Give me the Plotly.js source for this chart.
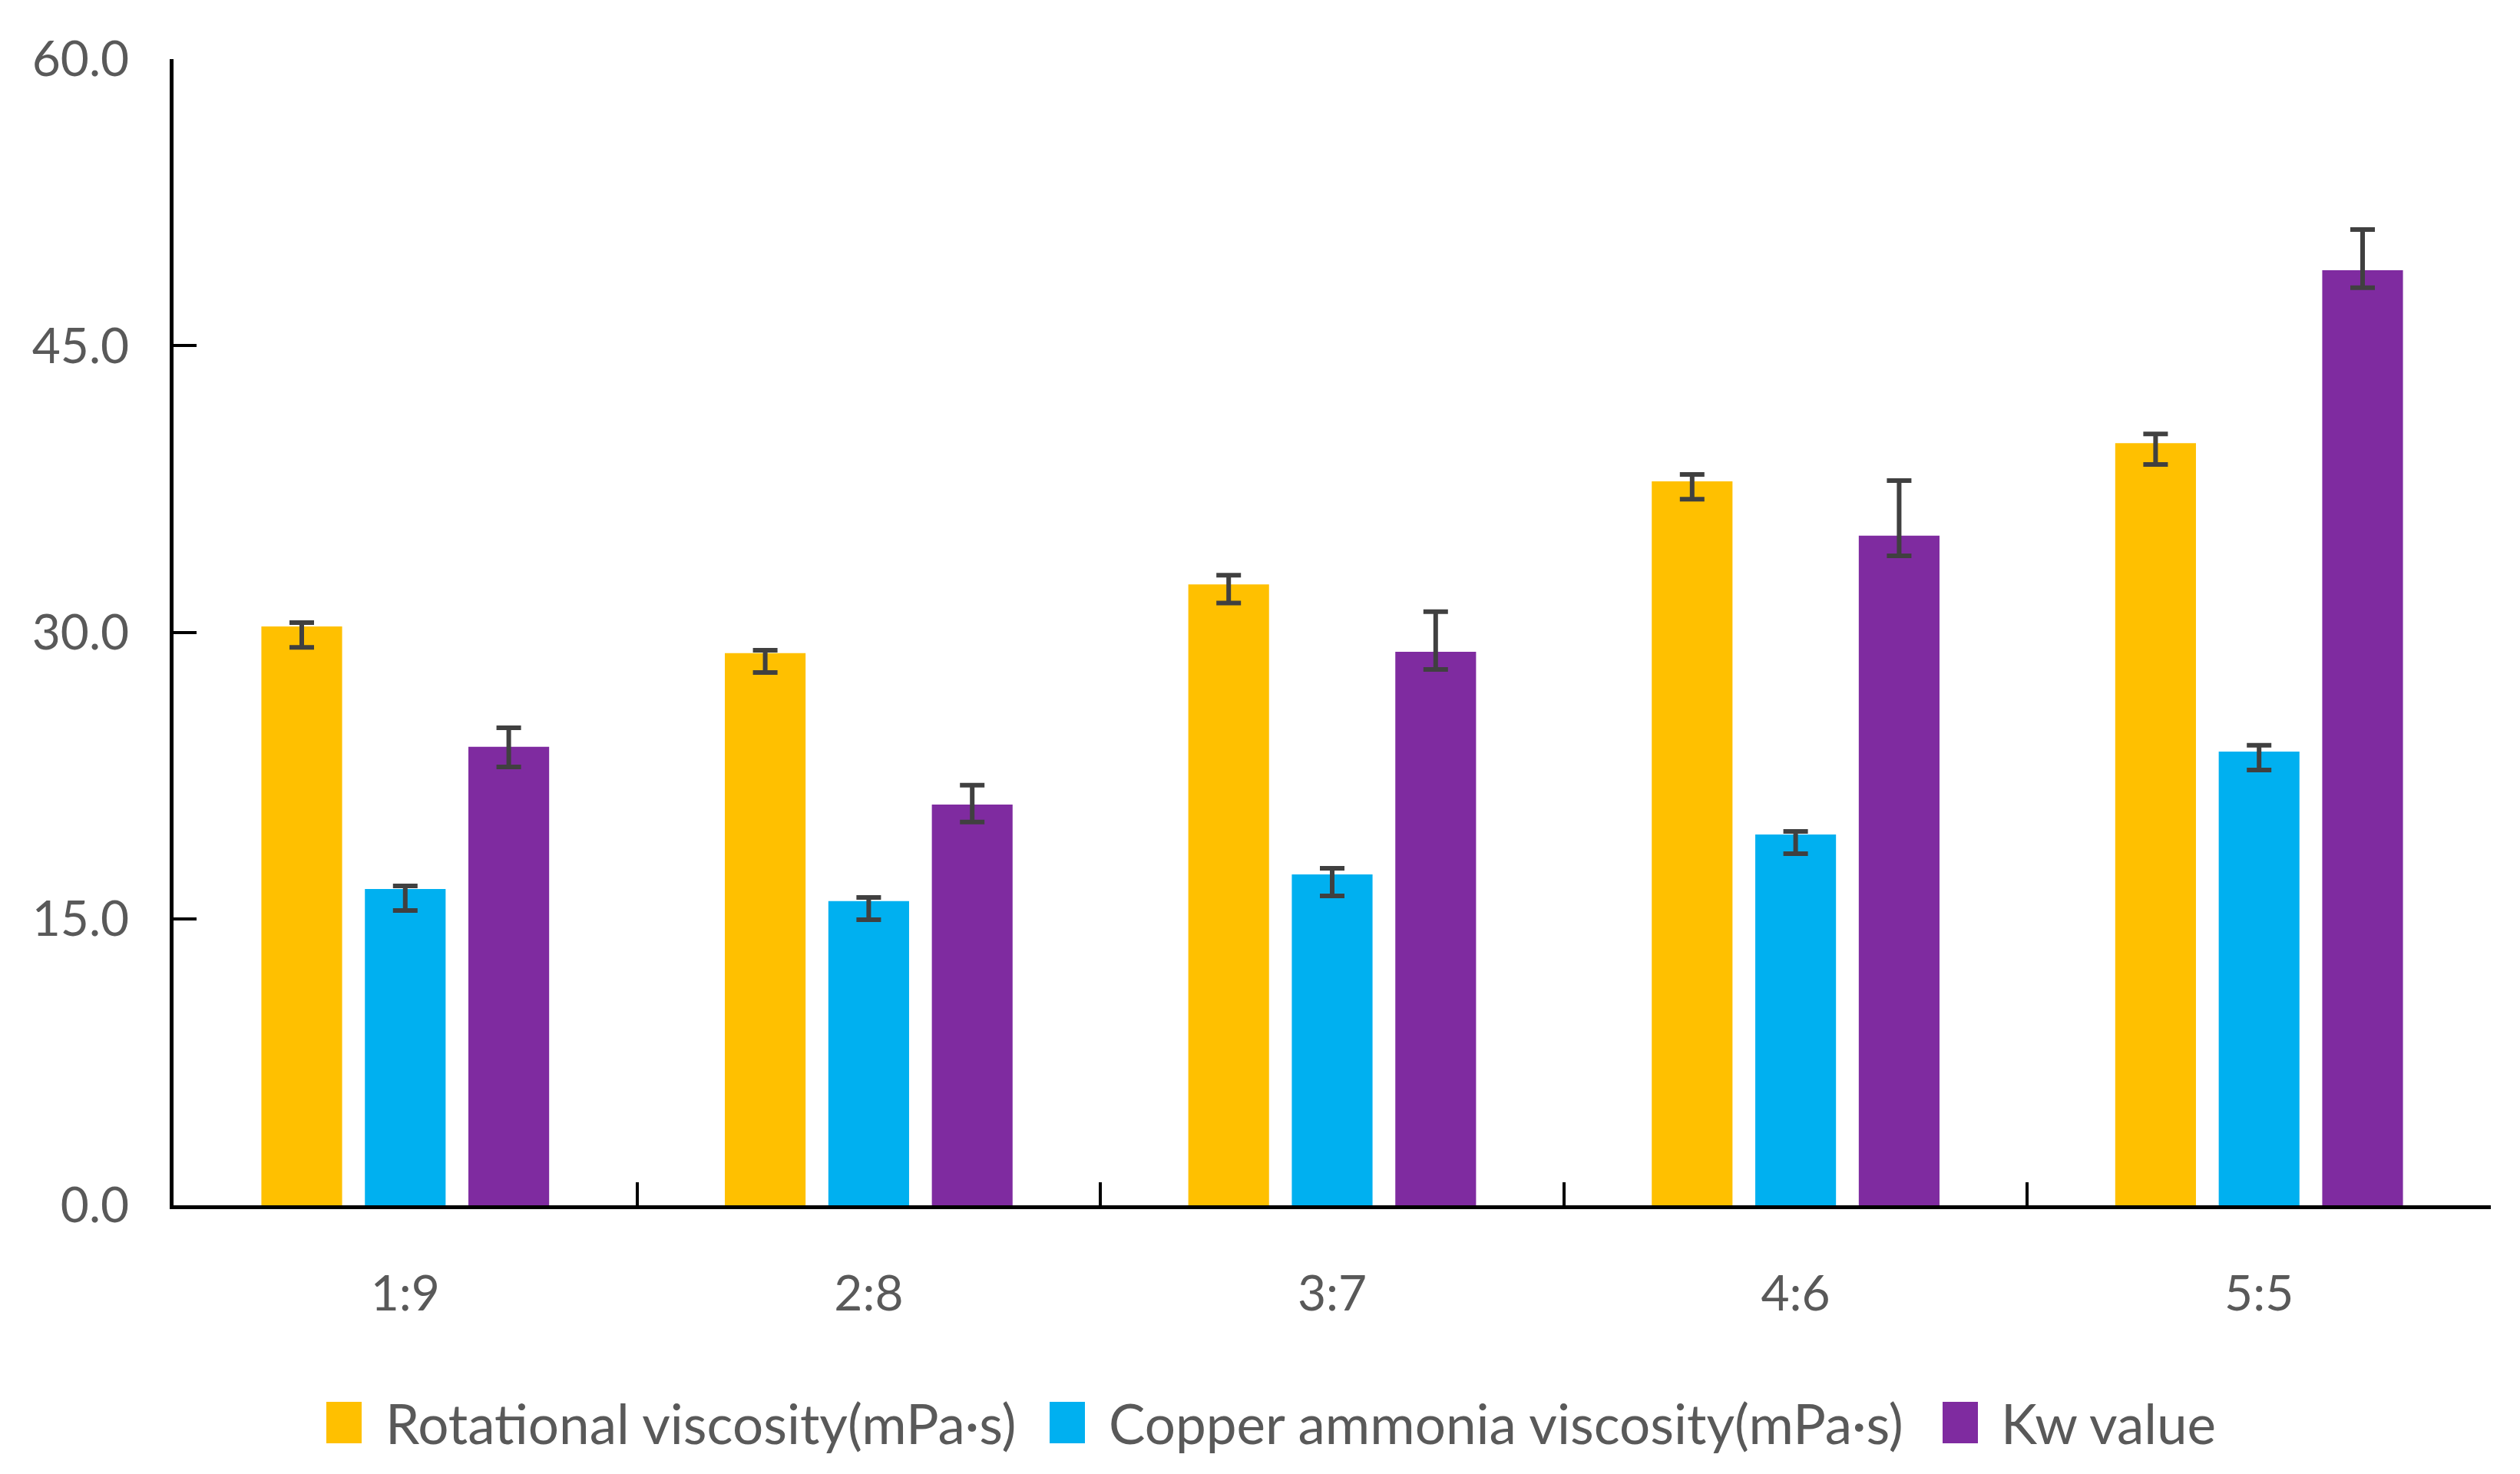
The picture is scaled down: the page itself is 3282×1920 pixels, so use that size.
<!DOCTYPE html>
<html>
<head>
<meta charset="utf-8">
<script src="https://cdn.plot.ly/plotly-3.0.1.min.js"></script>
<style>html,body{margin:0;padding:0;background:#fff;}#chart{width:3282px;height:1920px;}</style>
</head>
<body>
<div id="chart"></div>
<script>
const categories = ['1:9', '2:8', '3:7', '4:6', '5:5'];
const seriesNames = ['Rotational viscosity(mPa·s)', 'Copper ammonia viscosity(mPa·s)', 'Kw value'];
const rotational = [30.3, 28.9, 32.5, 37.9, 39.9];
const rotationalPlus = [0.2, 0.16, 0.48, 0.36, 0.48];
const rotationalMinus = [1.09, 1.01, 0.97, 0.94, 1.12];
const copper = [16.56, 15.92, 17.32, 19.41, 23.75];
const copperPlus = [0.16, 0.2, 0.32, 0.16, 0.33];
const copperMinus = [1.13, 0.97, 1.12, 1.0, 0.96];
const kw = [24.0, 20.98, 28.98, 35.05, 48.95];
const kwPlus = [1.0, 1.01, 2.09, 2.89, 2.13];
const kwMinus = [1.05, 0.92, 0.93, 1.05, 0.92];
const yTicks = [0, 15, 30, 45, 60];
const colors = ['#FFC000', '#00B0F0', '#7F2BA0'];

const FONT = 'Lato, "Open Sans", sans-serif';
const errStyle = (plus, minus) => ({
  type: 'data', symmetric: false, array: plus, arrayminus: minus,
  color: '#404040', thickness: 6, width: 16
});

const values = [rotational, copper, kw];
const pluses = [rotationalPlus, copperPlus, kwPlus];
const minuses = [rotationalMinus, copperMinus, kwMinus];

const traces = values.map((v, i) => ({
  type: 'bar', name: seriesNames[i], x: categories, y: v,
  marker: {color: colors[i]},
  error_y: errStyle(pluses[i], minuses[i]),
  showlegend: false
}));

// custom legend (large swatches) in paper coordinates
const shapes = [];
const annotations = [];
const plotL = 226, plotW = 3244 - 226, plotB = 1570, plotH = 1570 - 77;
function px2paperX(px) { return (px - plotL) / plotW; }
function px2paperY(py) { return (plotB - py) / plotH; }
const legendItems = [
  {sx: 425, tx: 500},
  {sx: 1367, tx: 1442},
  {sx: 2530, tx: 2604}
];
legendItems.forEach((it, i) => {
  shapes.push({
    type: 'rect', xref: 'paper', yref: 'paper',
    x0: px2paperX(it.sx), x1: px2paperX(it.sx + 46),
    y0: px2paperY(1880), y1: px2paperY(1826),
    fillcolor: colors[i], line: {width: 0}
  });
  annotations.push({
    xref: 'paper', yref: 'paper', x: px2paperX(it.tx), y: px2paperY(1853),
    xanchor: 'left', yanchor: 'middle', showarrow: false,
    text: seriesNames[i], font: {family: FONT, size: 71, color: '#595959'}
  });
});

const layout = {
  width: 3282, height: 1920,
  margin: {l: plotL, r: 3282 - 3244, t: 77, b: 1920 - 1570, pad: 0},
  paper_bgcolor: '#ffffff', plot_bgcolor: '#ffffff',
  barmode: 'group', bargap: 0.33, bargroupgap: 0.22,
  font: {family: FONT, size: 64, color: '#595959'},
  xaxis: {
    type: 'category', tickson: 'boundaries', ticks: 'inside', ticklen: 30, tickwidth: 4,
    tickcolor: '#000', showline: true, linecolor: '#000', linewidth: 5,
    showgrid: false, zeroline: false, ticklabelstandoff: 55,
    tickfont: {family: FONT, size: 64, color: '#595959'}
  },
  yaxis: {
    range: [0, 60], tickvals: yTicks, tickformat: '.1f', ticks: 'inside', ticklen: 30, tickwidth: 4,
    tickcolor: '#000', showline: true, linecolor: '#000', linewidth: 5,
    showgrid: false, zeroline: false, ticklabelstandoff: 40,
    tickfont: {family: FONT, size: 64, color: '#595959'}
  },
  shapes: shapes,
  annotations: annotations
};

Plotly.newPlot('chart', traces, layout, {staticPlot: true, displayModeBar: false});
</script>
</body>
</html>
